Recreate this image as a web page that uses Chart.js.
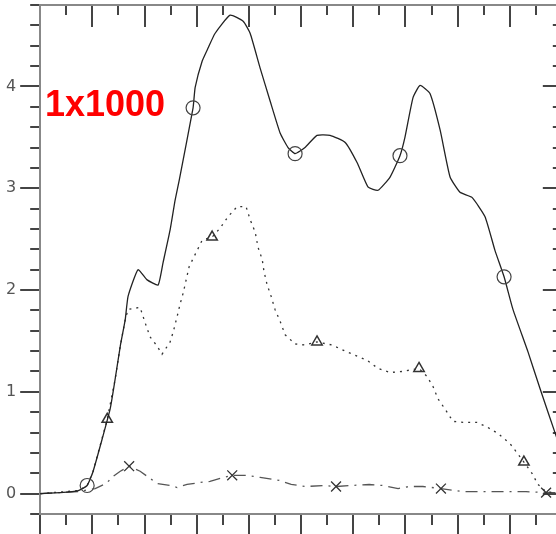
<!DOCTYPE html>
<html>
<head>
<meta charset="utf-8">
<script src="https://cdn.jsdelivr.net/npm/chart.js@4/dist/chart.umd.min.js"></script>
<style>
  html, body { margin: 0; padding: 0; background: #fff; overflow: hidden; }
  #wrap { position: relative; width: 556px; height: 534px; overflow: hidden; }
  #lbl { position: absolute; left: 45px; top: 86px; font: bold 36px "Liberation Sans", Arial, sans-serif; line-height: 36px; color: #f00; }
</style>
</head>
<body>
<div id="wrap">
  <canvas id="myChart" width="570" height="534"></canvas>
  <div id="lbl">1x1000</div>
</div>
<script>
// solid curve (circles)
const solidX = [0, 0.77, 1.46, 1.80, 2.03, 2.68, 2.87, 3.07, 3.26, 3.37, 3.75, 4.10, 4.52, 4.71, 4.98, 5.17, 5.33, 5.86, 5.94, 6.21, 6.44, 6.70, 7.28, 7.78, 8.05, 8.43, 8.81, 9.20, 9.50, 9.77, 10.15, 10.61, 11.11, 11.69, 12.15, 12.57, 12.95, 13.41, 13.79, 13.98, 14.29, 14.56, 14.94, 15.33, 15.71, 16.09, 16.55, 17.05, 17.43, 17.78, 18.12, 18.70, 19.16, 19.77, 20.0]
const solidY = [0, 0.01, 0.03, 0.08, 0.22, 0.83, 1.12, 1.45, 1.71, 1.94, 2.20, 2.10, 2.05, 2.27, 2.59, 2.88, 3.08, 3.79, 3.99, 4.25, 4.38, 4.52, 4.70, 4.64, 4.52, 4.18, 3.86, 3.54, 3.40, 3.34, 3.40, 3.52, 3.52, 3.45, 3.25, 3.01, 2.98, 3.11, 3.32, 3.50, 3.89, 4.01, 3.93, 3.57, 3.11, 2.96, 2.91, 2.72, 2.39, 2.13, 1.81, 1.39, 1.03, 0.57, 0.40]
const circleX = [1.80, 5.86, 9.77, 13.79, 17.78]

// dotted curve (triangles)
const dotX = [0, 1.46, 1.80, 2.03, 2.57, 2.87, 3.07, 3.26, 3.37, 3.83, 4.02, 4.21, 4.48, 4.67, 4.98, 5.10, 5.25, 5.36, 5.48, 5.71, 5.94, 6.21, 6.59, 6.90, 7.20, 7.55, 7.89, 8.05, 8.24, 8.35, 8.51, 8.58, 8.70, 8.85, 9.00, 9.20, 9.39, 9.77, 10.15, 10.61, 11.19, 11.69, 12.15, 12.53, 12.95, 13.41, 13.87, 14.52, 14.83, 15.06, 15.25, 15.52, 15.82, 16.21, 16.74, 17.16, 17.55, 18.01, 18.31, 18.54, 18.85, 19.08, 19.39, 20.0]
const dotY = [0, 0.03, 0.08, 0.22, 0.73, 1.12, 1.45, 1.71, 1.81, 1.83, 1.68, 1.54, 1.45, 1.37, 1.49, 1.59, 1.74, 1.86, 1.97, 2.23, 2.35, 2.49, 2.52, 2.61, 2.72, 2.82, 2.82, 2.69, 2.57, 2.42, 2.30, 2.18, 2.05, 1.94, 1.81, 1.69, 1.56, 1.47, 1.46, 1.49, 1.46, 1.40, 1.35, 1.31, 1.23, 1.19, 1.20, 1.23, 1.15, 1.05, 0.93, 0.83, 0.71, 0.70, 0.70, 0.65, 0.59, 0.49, 0.39, 0.31, 0.20, 0.09, 0.02, 0.0]
const triX = [2.57, 6.59, 10.61, 14.52, 18.54]

// dash-dot curve (crosses)
const ddX = [0, 1.46, 2.11, 2.53, 2.80, 3.07, 3.41, 3.83, 4.10, 4.48, 4.98, 5.25, 5.63, 6.13, 6.51, 6.90, 7.36, 7.93, 8.43, 9.16, 9.62, 10.19, 10.84, 11.34, 11.92, 12.61, 13.14, 13.72, 14.14, 14.67, 15.36, 16.21, 17.36, 18.62, 19.39, 20.0]
const ddY = [0, 0.02, 0.05, 0.10, 0.17, 0.22, 0.27, 0.22, 0.17, 0.10, 0.08, 0.06, 0.09, 0.11, 0.12, 0.15, 0.18, 0.18, 0.16, 0.13, 0.09, 0.07, 0.08, 0.07, 0.08, 0.09, 0.08, 0.05, 0.07, 0.07, 0.05, 0.02, 0.02, 0.02, 0.01, 0.01]
const crossX = [3.41, 7.36, 11.34, 15.36, 19.39]

const yTickLabels = ['0', '1', '2', '3', '4']

Chart.defaults.font.family = 'DejaVu Sans'

const toPts = (xs, ys) => xs.map((x, i) => ({x: x, y: ys[i]}))
const isInt = v => Math.abs(v - Math.round(v)) < 1e-6
const tickCol = '#444'
const axisCol = '#888'

new Chart('myChart', {
  type: 'line',
  data: {
    datasets: [{
      data: toPts(solidX, solidY),
      borderColor: '#222', borderWidth: 1.3,
      tension: 0.15,
      pointStyle: 'circle',
      pointRadius: c => circleX.includes(c.raw.x) ? 7 : 0,
      pointBorderColor: '#444', pointBackgroundColor: 'rgba(0,0,0,0)', pointBorderWidth: 1.2
    }, {
      data: toPts(dotX, dotY),
      borderColor: '#333', borderWidth: 1.3, borderDash: [2, 5],
      pointStyle: 'triangle',
      pointRadius: c => triX.includes(c.raw.x) ? 6 : 0,
      pointBorderColor: '#333', pointBackgroundColor: 'rgba(0,0,0,0)', pointBorderWidth: 1.5
    }, {
      data: toPts(ddX, ddY),
      borderColor: '#555', borderWidth: 1.3, borderDash: [12, 6, 2, 6],
      pointStyle: 'crossRot',
      pointRadius: c => crossX.includes(c.raw.x) ? 7 : 0,
      pointBorderColor: '#333', pointBorderWidth: 1.3
    }]
  },
  options: {
    responsive: false,
    animation: false,
    devicePixelRatio: 1,
    layout: { padding: { left: 2, top: 5, right: 8, bottom: 0 } },
    plugins: { legend: { display: false }, tooltip: { enabled: false } },
    scales: {
      x: {
        type: 'linear', position: 'bottom', min: 0, max: 20,
        ticks: { stepSize: 1, display: false, autoSkip: false },
        grid: {
          tickLength: 20, tickWidth: 2, tickColor: tickCol,
          tickBorderDash: c => c.tick.value % 2 === 0 ? [] : [10, 100],
          color: tickCol, lineWidth: 2
        },
        border: { color: axisCol, width: 2, dash: c => [c.tick && c.tick.value % 2 === 0 ? 22 : 10, 5000] }
      },
      x2: {
        type: 'linear', position: 'top', min: 0, max: 20,
        ticks: { display: false },
        grid: { drawOnChartArea: false, drawTicks: false },
        border: { color: axisCol, width: 2 }
      },
      y: {
        min: -0.2, max: 4.8,
        ticks: {
          stepSize: 0.2, padding: 4, color: '#555', autoSkip: false,
          font: c => ({ size: c.tick && isInt(c.tick.value) ? 16 : 1 }),
          callback: v => isInt(v) ? yTickLabels[Math.round(v)] || '' : ''
        },
        grid: {
          tickLength: 20, tickWidth: 2, tickColor: tickCol,
          tickBorderDash: c => c.tick && isInt(c.tick.value) ? [] : [0, 10, 10, 100],
          color: tickCol, lineWidth: 2
        },
        border: {
          color: axisCol, width: 2,
          dash: c => {
            const a = c.chart.chartArea
            const w = a ? a.right - a.left : 520
            const L = c.tick && isInt(c.tick.value) ? 20 : 10
            return [0, w - L, L, 5000]
          }
        }
      }
    }
  }
})
</script>
</body>
</html>
